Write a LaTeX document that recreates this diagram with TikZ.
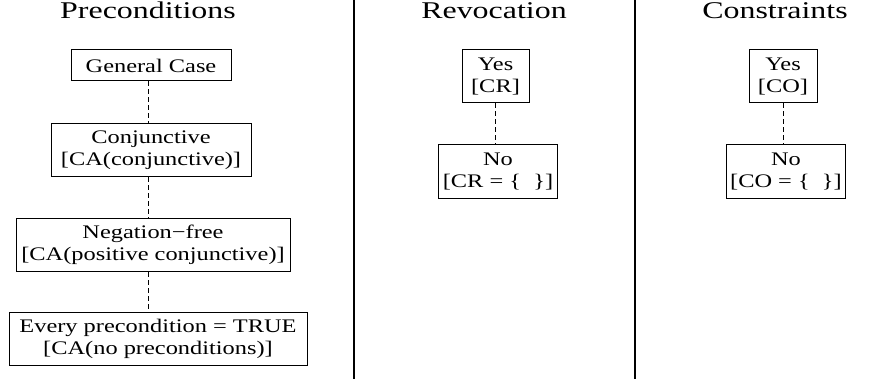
\documentclass[tikz,border=0pt]{standalone}
\usepackage{fontspec}
\setmainfont[FakeStretch=1.27]{Liberation Serif}
\newfontfamily\titlefont[FakeStretch=1.33]{Liberation Serif}
\usetikzlibrary{positioning}

\begin{document}
\begin{tikzpicture}[x=0.5pt, y=-0.5pt,
    box/.style={draw, line width=0.5pt, align=center, inner xsep=2pt,
        font=\fontsize{9.6}{11}\selectfont},
    onebox/.style={box, minimum height=15.5pt},
    twobox/.style={box, minimum height=26.5pt},
    title/.style={anchor=base, font=\titlefont\fontsize{12}{14}\selectfont},
    link/.style={line width=0.5pt, dash pattern=on 2.5pt off 1.5pt}]

            \useasboundingbox (0,0) rectangle (870,379);

            % column rules
            \draw[line width=1pt] (354,0) -- (354,379);
            \draw[line width=1pt] (635,0) -- (635,379);

            % titles
            \node[title] (pre) at (148,19) {Preconditions};
            \node[title] (rev) at (494,19) {Revocation};
            \node[title] (con) at (775,19) {Constraints};

            % preconditions
            \node[onebox, minimum width=80pt] (general) at (151,65.5) {General Case};
            \node[twobox, minimum width=100pt] (conj) at (151,150) {Conjunctive\\ {[CA(conjunctive)]}};
            \node[twobox, minimum width=137pt] (negfree) at (153,245) {Negation−free\\ {[CA(positive conjunctive)]}};
            \node[twobox, minimum width=149pt] (nopre) at (158,339) {Every precondition = TRUE\\ {[CA(no preconditions)]}};

            % revocation
            \node[twobox, minimum width=33.5pt] (revyes) at (495.5,76.5) {Yes\\ {[CR]}};
            \node[twobox, minimum width=57pt] (revno) at (498,171.5) {No\\ {[CR = \{~~\}]}};

            % constraints
            \node[twobox, minimum width=34pt] (conyes) at (783,76.5) {Yes\\ {[CO]}};
            \node[twobox, minimum width=57pt] (conno) at (786,171.5) {No\\ {[CO = \{~~\}]}};

            \coordinate (prespine) at (148,0);
            \coordinate (revspine) at (495,0);
            \coordinate (conspine) at (783,0);

            \foreach \a/\b in {general/conj, conj/negfree, negfree/nopre}
            \draw[link] (\a.south -| prespine) -- (\b.north -| prespine);
            \draw[link] (revyes.south -| revspine) -- (revno.north -| revspine);
            \draw[link] (conyes.south -| conspine) -- (conno.north -| conspine);
            \end{tikzpicture}
\end{document}
